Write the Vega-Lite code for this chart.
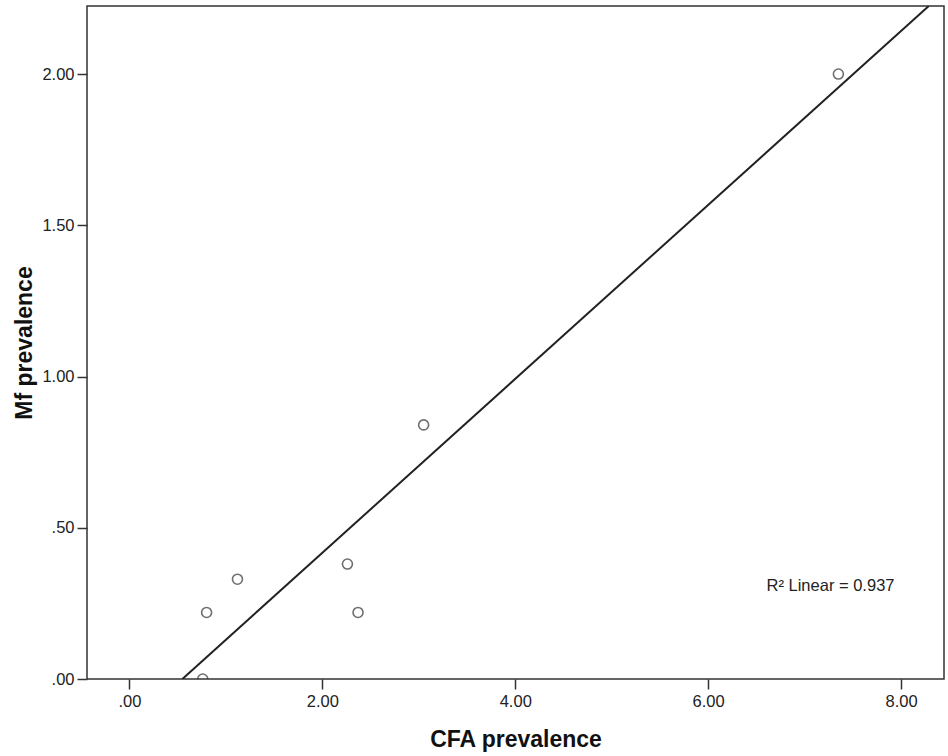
{
  "$schema": "https://vega.github.io/schema/vega-lite/v6.json",
  "width": 857,
  "height": 673,
  "autosize": {"type": "none"},
  "padding": {"left": 87, "top": 6, "right": 4, "bottom": 77},
  "background": "white",
  "config": {
    "view": {"stroke": "#333333", "strokeWidth": 1.5},
    "font": "Liberation Sans",
    "axis": {
      "domain": false,
      "grid": false,
      "ticks": true,
      "tickSize": 10,
      "tickWidth": 1.5,
      "tickColor": "#333333",
      "labelFont": "Liberation Sans",
      "labelFontSize": 16.5,
      "labelColor": "#222222",
      "titleFont": "Liberation Sans",
      "titleFontSize": 23,
      "titleFontWeight": "bold",
      "titleColor": "#111111"
    }
  },
  "datasets": {
    "points": [
      {"cfa": 0.76, "mf": 0.0},
      {"cfa": 0.80, "mf": 0.22},
      {"cfa": 1.12, "mf": 0.33},
      {"cfa": 2.26, "mf": 0.38},
      {"cfa": 2.37, "mf": 0.22},
      {"cfa": 3.05, "mf": 0.84},
      {"cfa": 7.35, "mf": 2.0}
    ],
    "fit": [
      {"cfa": 0.549, "mf": 0.0},
      {"cfa": 8.287, "mf": 2.225}
    ],
    "note": [
      {"cfa": 6.605, "mf": 0.308, "label": "R² Linear = 0.937"}
    ]
  },
  "layer": [
    {
      "data": {"name": "fit"},
      "mark": {"type": "line", "color": "#222222", "strokeWidth": 2, "clip": true},
      "encoding": {
        "x": {
          "field": "cfa",
          "type": "quantitative",
          "scale": {"domain": [-0.44, 8.445], "nice": false, "zero": false},
          "axis": {
            "title": "CFA prevalence",
            "values": [0, 2, 4, 6, 8],
            "labelExpr": "datum.value < 1 ? substring(format(datum.value, '.2f'), 1) : format(datum.value, '.2f')",
            "labelPadding": 4,
            "titleBaseline": "alphabetic",
            "titleY": 67
          }
        },
        "y": {
          "field": "mf",
          "type": "quantitative",
          "scale": {"domain": [0, 2.225], "nice": false, "zero": false},
          "axis": {
            "title": "Mf prevalence",
            "values": [0, 0.5, 1, 1.5, 2],
            "labelExpr": "datum.value < 1 ? substring(format(datum.value, '.2f'), 1) : format(datum.value, '.2f')",
            "labelPadding": 3,
            "titleBaseline": "alphabetic",
            "titleX": -56,
            "titleAngle": -90
          }
        }
      }
    },
    {
      "data": {"name": "points"},
      "mark": {"type": "point", "shape": "circle", "filled": false, "size": 100, "stroke": "#333333", "strokeWidth": 1.6, "clip": true},
      "encoding": {
        "x": {"field": "cfa", "type": "quantitative"},
        "y": {"field": "mf", "type": "quantitative"}
      }
    },
    {
      "data": {"name": "note"},
      "mark": {"type": "text", "align": "left", "baseline": "middle", "fontSize": 16.5, "font": "Liberation Sans", "color": "#222222"},
      "encoding": {
        "x": {"field": "cfa", "type": "quantitative"},
        "y": {"field": "mf", "type": "quantitative"},
        "text": {"field": "label"}
      }
    }
  ]
}
